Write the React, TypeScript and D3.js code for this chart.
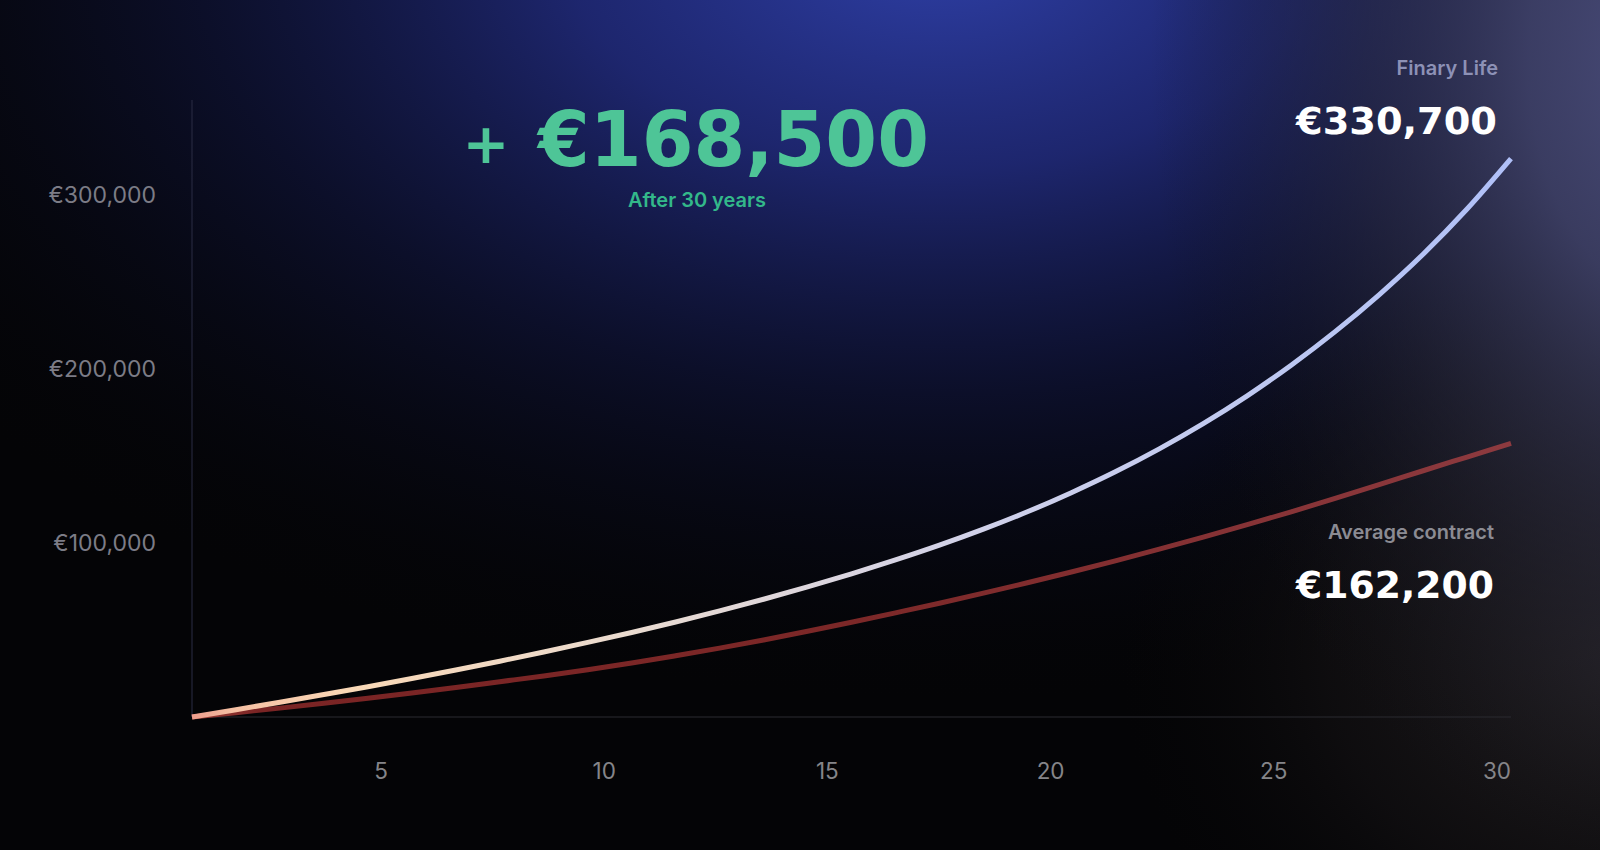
import React, { useEffect, useRef } from 'react';
import * as d3 from 'd3';

// Years of the projection
const years = [0, 1, 2, 3, 4, 5, 6, 7, 8, 9, 10, 11, 12, 13, 14, 15, 16, 17, 18, 19, 20, 21, 22, 23, 24, 25, 26, 27, 28, 29, 30];

// Projected savings (€)
const finaryLife = [
  0, 4200, 8500, 12900, 17400, 22100, 27000, 32100, 37400, 42900, 48600,
  54600, 61000, 67700, 74800, 82300, 90300, 98800, 108000, 118000, 129000,
  141000, 154200, 168700, 184700, 202300, 221600, 242800, 266100, 292100, 321100,
];
const averageContract = [
  0, 2500, 5100, 7900, 10800, 13800, 17000, 20300, 23600, 27200, 31000,
  35200, 39600, 44300, 49300, 54500, 59900, 65400, 71200, 77200, 83400,
  89800, 96500, 103400, 110600, 118000, 125700, 133600, 141600, 149500, 157400,
];

const xTicks = [5, 10, 15, 20, 25, 30];
const yTicks = [100000, 200000, 300000];

const headlineSign = '+';
const headlineValue = '€168,500';
const headlineSub = 'After 30 years';
const finaryLabel = 'Finary Life';
const finaryTotal = '€330,700';
const averageLabel = 'Average contract';
const averageTotal = '€162,200';

const W = 1600;
const H = 850;

const App: React.FC = () => {
  const svgRef = useRef<SVGSVGElement>(null);

  useEffect(() => {
    document.body.style.margin = '0';
    document.body.style.background = '#040406';
    if (!svgRef.current) return;

    const svg = d3.select(svgRef.current);
    svg.selectAll('*').remove();
    svg.attr('width', W).attr('height', H);

    const plot = { left: 192, right: 1511, top: 100, bottom: 717 };

    const x = d3.scaleLinear().domain([0, 30]).range([plot.left, plot.right]);
    const y = d3.scaleLinear().domain([0, 354800]).range([plot.bottom, plot.top]);
    // tick labels sit on their own evenly spaced row
    const xLabel = d3.scalePoint<number>().domain(xTicks).range([381, 1497]);

    const defs = svg.append('defs');

    // background glows
    const glow = (id: string, cx: number, cy: number, rx: number, ry: number, stops: [number, string, number][]) => {
      const g = defs.append('radialGradient')
        .attr('id', id)
        .attr('gradientUnits', 'userSpaceOnUse')
        .attr('cx', 0).attr('cy', 0).attr('r', 1)
        .attr('gradientTransform', `translate(${cx},${cy}) scale(${rx},${ry})`);
      stops.forEach(([o, c, a]) => g.append('stop').attr('offset', o).attr('stop-color', c).attr('stop-opacity', a));
    };
    glow('bgBlue', 940, -60, 1250, 760, [[0, '#2f40a8', 1], [0.3, '#222c80', 0.85], [0.6, '#111640', 0.6], [1, '#05060c', 0]]);
    glow('bgWarm', 1640, 660, 520, 420, [[0, '#2b2729', 0.85], [0.6, '#1a1719', 0.45], [1, '#0a0909', 0]]);
    glow('bgGrey', 1690, 60, 540, 820, [[0, '#4f5283', 0.95], [0.3, '#42446a', 0.85], [0.6, '#2c2c40', 0.55], [1, '#111118', 0]]);

    svg.append('rect').attr('width', W).attr('height', H).attr('fill', '#040406');
    svg.append('rect').attr('width', W).attr('height', H).attr('fill', 'url(#bgBlue)');
    svg.append('rect').attr('width', W).attr('height', H).attr('fill', 'url(#bgWarm)');
    svg.append('rect').attr('width', W).attr('height', H).attr('fill', 'url(#bgGrey)');

    // line gradients
    const lineGrad = (id: string, stops: [number, string][]) => {
      const g = defs.append('linearGradient')
        .attr('id', id)
        .attr('gradientUnits', 'userSpaceOnUse')
        .attr('x1', plot.left).attr('x2', plot.right)
        .attr('y1', 0).attr('y2', 0);
      stops.forEach(([o, c]) => g.append('stop').attr('offset', o).attr('stop-color', c));
    };
    lineGrad('finaryGrad', [[0, '#ee9c8c'], [0.03, '#f5bfa2'], [0.12, '#f9d8b6'], [0.33, '#eadbd0'], [0.6, '#d0d1ea'], [0.84, '#bcc7f2'], [1, '#b0c0f8']]);
    lineGrad('averageGrad', [[0, '#a04038'], [0.05, '#7a2424'], [0.5, '#7c2828'], [1, '#8d3a3f']]);

    // axes
    svg.append('line')
      .attr('x1', plot.left).attr('x2', plot.left)
      .attr('y1', plot.top).attr('y2', plot.bottom)
      .attr('stroke', '#2a2d45').attr('stroke-width', 1);
    svg.append('line')
      .attr('x1', plot.left).attr('x2', plot.right)
      .attr('y1', plot.bottom).attr('y2', plot.bottom)
      .attr('stroke', '#2b2b30').attr('stroke-width', 1.2);

    const fmt = d3.format(',');
    svg.append('g')
      .selectAll('text')
      .data(yTicks)
      .enter()
      .append('text')
      .attr('x', 156)
      .attr('y', d => y(d))
      .attr('dy', '0.35em')
      .attr('text-anchor', 'end')
      .style('font-family', 'Inter, sans-serif')
      .style('font-size', '23px')
      .style('fill', '#7c7c86')
      .text(d => `€${fmt(d)}`);

    svg.append('g')
      .selectAll('text')
      .data(xTicks)
      .enter()
      .append('text')
      .attr('x', d => xLabel(d)!)
      .attr('y', 771)
      .attr('dy', '0.35em')
      .attr('text-anchor', 'middle')
      .style('font-family', 'Inter, sans-serif')
      .style('font-size', '22.5px')
      .style('fill', '#858589')
      .text(d => d);

    // curves
    const line = d3.line<number>()
      .x((_, i) => x(years[i]))
      .y(d => y(d))
      .curve(d3.curveMonotoneX);

    svg.append('path')
      .datum(averageContract)
      .attr('d', line)
      .attr('fill', 'none')
      .attr('stroke', 'url(#averageGrad)')
      .attr('stroke-width', 5);

    svg.append('path')
      .datum(finaryLife)
      .attr('d', line)
      .attr('fill', 'none')
      .attr('stroke', 'url(#finaryGrad)')
      .attr('stroke-width', 5);

    // headline
    svg.append('text')
      .attr('x', 486)
      .attr('y', 143)
      .attr('dy', '0.35em')
      .attr('text-anchor', 'middle')
      .style('font-family', '"DejaVu Sans", sans-serif')
      .style('font-weight', 700)
      .style('font-size', '56px')
      .style('fill', '#4ec597')
      .text(headlineSign);

    svg.append('text')
      .attr('x', 538)
      .attr('y', 166)
      .attr('textLength', 391)
      .attr('lengthAdjust', 'spacingAndGlyphs')
      .style('font-family', '"DejaVu Sans", sans-serif')
      .style('font-weight', 700)
      .style('font-size', '77px')
      .style('fill', '#4ec597')
      .text(headlineValue);

    svg.append('text')
      .attr('x', 697)
      .attr('y', 207)
      .attr('text-anchor', 'middle')
      .style('font-family', 'Inter, sans-serif')
      .style('font-weight', 600)
      .style('font-size', '20px')
      .style('fill', '#33b88a')
      .text(headlineSub);

    // end labels
    const label = (txt: string, right: number, base: number, color: string) =>
      svg.append('text')
        .attr('x', right)
        .attr('y', base)
        .attr('text-anchor', 'end')
        .style('font-family', 'Inter, sans-serif')
        .style('font-weight', 600)
        .style('font-size', '20px')
        .style('fill', color)
        .text(txt);

    const total = (txt: string, left: number, base: number, len: number) =>
      svg.append('text')
        .attr('x', left)
        .attr('y', base)
        .attr('textLength', len)
        .attr('lengthAdjust', 'spacingAndGlyphs')
        .style('font-family', '"DejaVu Sans", sans-serif')
        .style('font-weight', 700)
        .style('font-size', '38px')
        .style('fill', '#ffffff')
        .text(txt);

    label(finaryLabel, 1498, 75, '#8d91b6');
    total(finaryTotal, 1296, 134, 201);
    label(averageLabel, 1494, 539, '#8b8b93');
    total(averageTotal, 1296, 598, 198);
  }, []);

  return <svg ref={svgRef} style={{ display: 'block' }}></svg>;
};

export default App;
